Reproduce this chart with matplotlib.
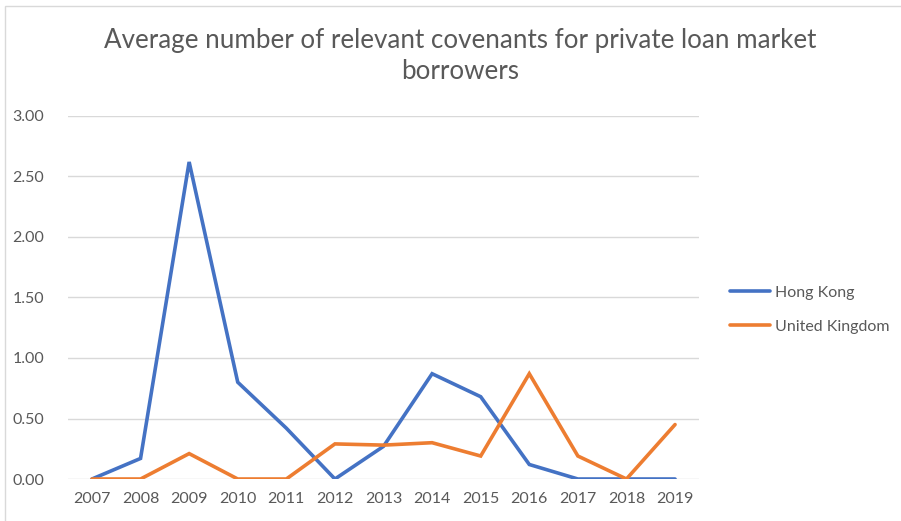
import matplotlib
matplotlib.use("Agg")
import matplotlib.pyplot as plt
from matplotlib.patches import Rectangle

years = ["2007", "2008", "2009", "2010", "2011", "2012", "2013",
         "2014", "2015", "2016", "2017", "2018", "2019"]
hong_kong = [0.00, 0.17, 2.62, 0.80, 0.42, 0.00, 0.27,
             0.87, 0.68, 0.12, 0.00, 0.00, 0.00]
united_kingdom = [0.00, 0.00, 0.21, 0.00, 0.00, 0.29, 0.28,
                  0.30, 0.19, 0.87, 0.19, 0.00, 0.45]
y_ticks = [0.0, 0.5, 1.0, 1.5, 2.0, 2.5, 3.0]

plt.rcParams["font.family"] = ["Lato", "DejaVu Sans"]
text_grey = "#595959"
grid_grey = "#D9D9D9"

fig = plt.figure(figsize=(9.01, 5.21), dpi=100)
ax = fig.add_axes([0.0751, 0.0806, 0.7011, 0.6968])

x = list(range(len(years)))
ax.plot(x, hong_kong, color="#4472C4", lw=2.6, label="Hong Kong",
        solid_joinstyle="miter", solid_capstyle="round")
ax.plot(x, united_kingdom, color="#ED7D31", lw=2.6, label="United Kingdom",
        solid_joinstyle="miter", solid_capstyle="round")

ax.set_xlim(-0.5, len(years) - 0.5)
ax.set_ylim(0, 3.0)
ax.set_yticks(y_ticks)
ax.set_yticklabels([f"{v:.2f}" for v in y_ticks])
ax.set_xticks(x)
ax.set_xticklabels(years)
ax.tick_params(axis="both", length=0, labelsize=11.5, labelcolor=text_grey)
ax.tick_params(axis="y", pad=17)
ax.tick_params(axis="x", pad=9)
ax.yaxis.grid(True, color=grid_grey, lw=1)
ax.set_axisbelow(True)
for s in ax.spines.values():
    s.set_visible(False)

fig.text(0.511, 0.893, "Average number of relevant covenants for private loan market\nborrowers",
         ha="center", va="center", fontsize=18.7, color=text_grey, linespacing=1.3)

leg = ax.legend(loc="center left", bbox_to_anchor=(1.026, 0.466), frameon=False,
                fontsize=11.5, labelcolor=text_grey, handlelength=2.5,
                handletextpad=0.3, labelspacing=1.25)

fig.patches.append(Rectangle((5 / 901, -0.1), 1.2, 1 - 6 / 521 + 0.1,
                             transform=fig.transFigure, fill=False,
                             edgecolor=grid_grey, lw=1))

fig.savefig("out.png", dpi=100)
